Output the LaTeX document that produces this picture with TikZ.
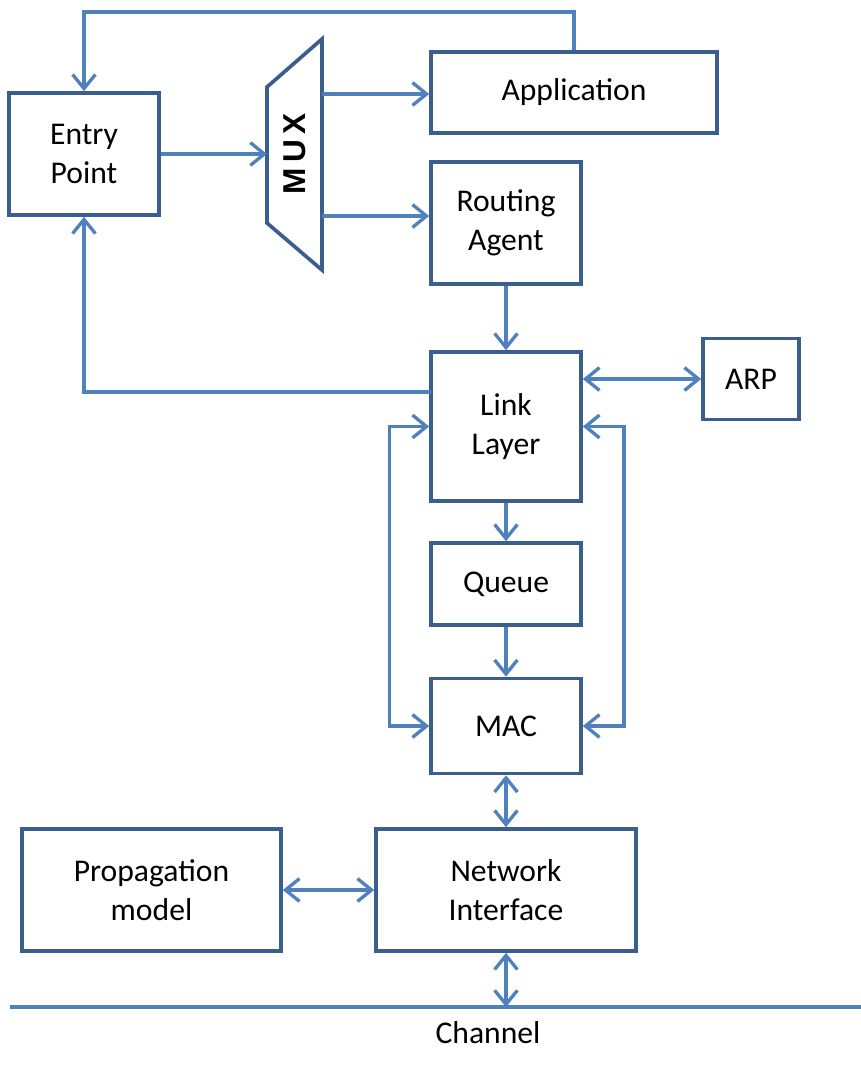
\documentclass[tikz,border=0pt]{standalone}
\usepackage{fontspec}
\setmainfont{Carlito}
\newfontfamily\muxfont{Liberation Sans}
\usetikzlibrary{arrows.meta}

\definecolor{lineblue}{HTML}{4F81BD}
\definecolor{boxblue}{HTML}{3A5F8F}

\begin{document}
\begin{tikzpicture}[x=0.02cm, y=-0.02cm,
    box/.style={draw=boxblue, line width=2.1pt, inner sep=0pt, align=center,
      font=\fontsize{18}{22.5}\selectfont},
    flow/.style={draw=lineblue, line width=1.9pt},
    >={Straight Barb[length=8pt,width=13pt]}]
    \useasboundingbox (0,0) rectangle (861,1072);

    % Blocks
    \node[box, minimum width=3cm, minimum height=2.44cm] (entry) at (84,154) {Entry\\Point};
    \node[box, minimum width=5.72cm, minimum height=1.62cm] (app) at (574,92.5) {Application};
    \node[box, minimum width=3cm, minimum height=2.44cm] (routing) at (506,223) {Routing\\Agent};
    \node[box, minimum width=3cm, minimum height=2.98cm] (link) at (506,426.5) {Link\\Layer};
    \node[box, minimum width=1.92cm, minimum height=1.62cm] (arp) at (751,379) {ARP};
    \node[box, minimum width=3cm, minimum height=1.64cm] (queue) at (506,584) {Queue};
    \node[box, minimum width=3cm, minimum height=1.9cm] (mac) at (506,726) {MAC};
    \node[box, minimum width=5.18cm, minimum height=2.44cm] (prop) at (151.5,890) {Propagation\\model};
    \node[box, minimum width=5.2cm, minimum height=2.44cm] (ni) at (506,890) {Network\\Interface};

    % Draw the MUX
    \draw[draw=boxblue, line width=2.1pt] (267,87) -- (322,39) -- (322,270) -- (267,223) -- cycle;
    \node[rotate=90, font=\muxfont\bfseries\fontsize{18}{20}\selectfont] (mux) at (294.5,154) {M\,U\,X};
    \coordinate (muxin) at (267,154);
    \coordinate (muxa) at (322,94);
    \coordinate (muxr) at (322,216);

    % Connectors
    \draw[flow, ->] (entry.east) -- (muxin);
    \draw[flow, ->] (muxa) -- (muxa -| app.west);
    \draw[flow, ->] (muxr) -- (muxr -| routing.west);
    \coordinate (top) at (84,12);
    \draw[flow, ->] (app.north) |- (top) -- (entry.north);
    \coordinate (back) at (431,392);
    \draw[flow, ->] (back) -| (entry.south);
    \draw[flow, ->] (routing.south) -- (link.north);
    \draw[flow, <->] (arp.west -| link.east) -- (arp.west);
    \draw[flow, <->] (link.west) -- ++(-40,0) |- (mac.west);
    \draw[flow, <->] (link.east) -- ++(41,0) |- (mac.east);
    \draw[flow, ->] (link.south) -- (queue.north);
    \draw[flow, ->] (queue.south) -- (mac.north);
    \draw[flow, <->] (mac.south) -- (ni.north);
    \draw[flow, <->] (prop.east) -- (ni.west);

    % Channel
    \coordinate (ch) at (506,1007);
    \draw[draw=lineblue, line width=2.2pt] (10,1007) -- (861,1007);
    \draw[flow, <->] (ni.south) -- (ch);
    \node[font=\fontsize{18}{22.5}\selectfont] (channel) at (488,1033) {Channel};
\end{tikzpicture}
\end{document}
